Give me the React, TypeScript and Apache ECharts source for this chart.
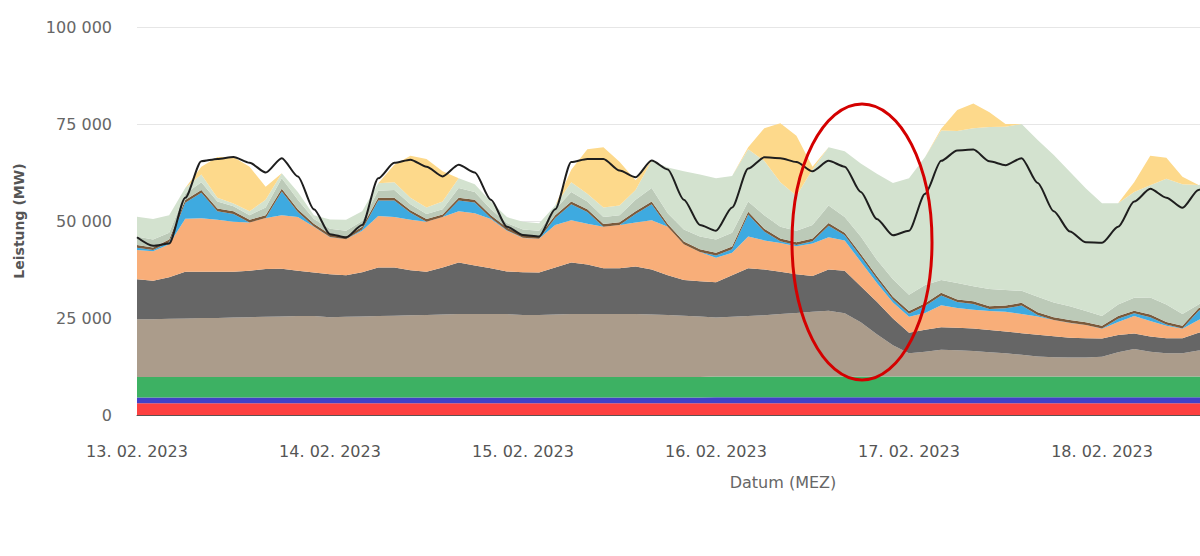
import React, { useEffect, useRef } from "react";
import * as echarts from "echarts";

// 2-hour sampling grid, hours since 13.02.2023 00:00 (MEZ)
const hours: number[] = Array.from({ length: 68 }, (_, i) => i * 2);
const START = new Date(2023, 1, 13, 0, 0, 0).getTime();
const HOUR = 3600 * 1000;
const DAY = 24 * HOUR;
const LAST_LABEL_DAY = 5; // 18. 02. 2023 is the last visible date label

const yTicks = [0, 25000, 50000, 75000, 100000];

// Generation per source in MW (stacked from bottom to top)
const kernenergie = [
  3000, 3000, 3000, 3000, 3000, 3000, 3000, 3000, 3000, 3000, 3000, 3000,
  3000, 3000, 3000, 3000, 3000, 3000, 3000, 3000, 3000, 3000, 3000, 3000,
  3000, 3000, 3000, 3000, 3000, 3000, 3000, 3000, 3000, 3000, 3000, 3000,
  3000, 3000, 3000, 3000, 3000, 3000, 3000, 3000, 3000, 3000, 3000, 3000,
  3000, 3000, 3000, 3000, 3000, 3000, 3000, 3000, 3000, 3000, 3000, 3000,
  3000, 3000, 3000, 3000, 3000, 3000, 3000, 3000,
];
const laufwasser = [
  1500, 1500, 1500, 1500, 1500, 1500, 1500, 1500, 1500, 1500, 1500, 1500,
  1500, 1500, 1500, 1500, 1500, 1500, 1500, 1500, 1500, 1500, 1500, 1500,
  1500, 1500, 1500, 1500, 1500, 1500, 1500, 1500, 1500, 1500, 1500, 1500,
  1600, 1600, 1600, 1600, 1600, 1600, 1600, 1600, 1600, 1600, 1600, 1600,
  1600, 1600, 1600, 1600, 1600, 1600, 1600, 1600, 1600, 1600, 1600, 1600,
  1600, 1600, 1600, 1600, 1600, 1600, 1600, 1600,
];
const biomasse = [
  5300, 5300, 5300, 5300, 5300, 5300, 5300, 5300, 5300, 5300, 5300, 5300,
  5300, 5300, 5300, 5300, 5300, 5300, 5300, 5300, 5300, 5300, 5300, 5300,
  5300, 5300, 5300, 5300, 5300, 5300, 5300, 5300, 5300, 5300, 5300, 5300,
  5300, 5300, 5300, 5300, 5300, 5300, 5300, 5300, 5300, 5300, 5300, 5300,
  5300, 5300, 5300, 5300, 5300, 5300, 5300, 5300, 5300, 5300, 5300, 5300,
  5300, 5300, 5300, 5300, 5300, 5300, 5300, 5300,
];
const braunkohle = [
  14900, 14900, 15000, 15100, 15200, 15200, 15300, 15400, 15500, 15600, 15700, 15700,
  15400, 15500, 15600, 15700, 15800, 15900, 16000, 16100, 16200, 16200, 16200, 16200,
  16000, 16000, 16100, 16200, 16200, 16200, 16200, 16200, 16100, 16000, 15800, 15600,
  15200, 15400, 15600, 15800, 16100, 16400, 16700, 17000, 16300, 14000, 10900, 8100,
  6000, 6400, 6900, 6800, 6600, 6300, 6000, 5600, 5200, 5000, 4900, 4900,
  5100, 6300, 7100, 6400, 6000, 6000, 6700, 7100,
];
const steinkohle = [
  10300, 9900, 10700, 12000, 11900, 11900, 11800, 12000, 12300, 12300, 11700, 11200,
  11100, 10700, 11400, 12500, 12400, 11600, 11100, 12100, 13300, 12500, 11800, 11000,
  11000, 10900, 12100, 13300, 12800, 11800, 11800, 12300, 11600, 10200, 9200, 9100,
  9100, 10700, 12300, 11800, 10900, 10000, 9200, 10600, 11000, 9300, 8400, 6900,
  5300, 5700, 5800, 5800, 5800, 5700, 5600, 5600, 5600, 5400, 5100, 5000,
  4700, 4400, 4000, 3900, 3900, 3900, 4600, 5000,
];
const erdgas = [
  7500, 7600, 8500, 13700, 13800, 13400, 12900, 12400, 13200, 13800, 13800, 11800,
  9500, 9300, 10700, 13300, 13000, 13000, 12900, 13000, 13200, 13500, 12700, 10500,
  8800, 8700, 11000, 10900, 10500, 10700, 11200, 11300, 12700, 12500, 9200, 7500,
  6300, 5800, 8200, 7500, 7400, 7200, 8400, 8300, 7800, 6300, 4800, 4100,
  4100, 4300, 5700, 5100, 4800, 4900, 5100, 4900, 4700, 4200, 3800, 3400,
  2500, 3400, 4500, 4000, 3200, 2400, 3300, 4500,
];
const pumpspeicher = [
  600, 300, 500, 4100, 6600, 2200, 2000, 0, 0, 6100, 1300, 100,
  100, 0, 300, 4000, 4300, 1800, 0, 0, 2800, 2800, 300, 100,
  100, 0, 1800, 4100, 3000, 0, 0, 2200, 4100, 0, 0, 0,
  600, 900, 5700, 2300, 500, 300, 600, 3000, 1300, 1300, 1100, 800,
  800, 1800, 2500, 1500, 1500, 500, 900, 2200, 400, 0, 100, 0,
  100, 800, 700, 1000, 300, 100, 2300, 2800,
];
const oel = [
  700, 700, 700, 700, 700, 700, 700, 700, 700, 700, 700, 700,
  700, 700, 700, 700, 700, 700, 700, 700, 700, 700, 700, 700,
  700, 700, 700, 700, 700, 700, 700, 700, 700, 700, 700, 700,
  700, 700, 700, 700, 700, 700, 700, 700, 700, 700, 700, 700,
  700, 700, 700, 700, 700, 700, 700, 700, 700, 700, 700, 700,
  700, 700, 700, 700, 700, 700, 700, 700,
];
const windOffshore = [
  2200, 2000, 1800, 1600, 2000, 1800, 1300, 1200, 2000, 2700, 2500, 1200,
  1400, 1500, 1500, 1800, 2000, 1500, 1300, 1300, 2500, 2000, 1500, 1200,
  1400, 1400, 1500, 2500, 2000, 1800, 1800, 3000, 3500, 2800, 3100, 3300,
  3400, 3600, 2600, 3500, 3000, 3000, 3500, 4500, 4000, 4500, 4200, 4500,
  4200, 4700, 3300, 4200, 3900, 4500, 4000, 3100, 4000, 3800, 3500, 2900,
  2500, 3000, 3300, 4400, 4500, 3000, 1000, 1000,
];
const windOnshore = [
  5100, 5300, 4500, 1500, 2000, 1000, 700, 1000, 2000, 1300, 2000, 1000,
  2400, 2800, 2500, 1900, 2000, 1700, 1700, 2000, 2500, 2000, 2000, 1500,
  2000, 1900, 1000, 2500, 2000, 2500, 2500, 2500, 7000, 11800, 15000, 16000,
  15800, 14600, 13500, 14000, 11500, 9000, 14300, 15000, 17000, 18800, 22200, 24800,
  30000, 33000, 38500, 39200, 40700, 41700, 42100, 43000, 40400, 38000, 34700, 31600,
  29100, 26100, 27300, 28900, 32400, 33500, 30800, 29000,
];
const solar = [
  0, 0, 0, 0, 2000, 10500, 12000, 11500, 3300, 0, 0, 0,
  0, 0, 0, 0, 4500, 10800, 12500, 7800, 0, 0, 0, 0,
  0, 0, 0, 3200, 11500, 15500, 11300, 2500, 0, 0, 0, 0,
  0, 0, 500, 8400, 15200, 15500, 700, 0, 0, 0, 0, 0,
  0, 0, 500, 5400, 6400, 3800, 700, 0, 0, 0, 0, 0,
  0, 0, 2500, 7600, 5400, 1900, 0, 0,
];
// Load (Last) in MW
const last = [
  45800, 43600, 44200, 56000, 65400, 66000, 66500, 65000, 62500, 66200, 61500, 53000,
  46600, 45800, 49000, 61000, 65000, 65800, 64000, 61500, 64500, 62500, 55500, 48500,
  46400, 46000, 53000, 65200, 66000, 66000, 63000, 61300, 65600, 63300, 55500, 49000,
  47500, 53500, 63500, 66400, 66200, 65200, 62800, 65500, 64000, 57500, 50500, 46300,
  47500, 57000, 65500, 68200, 68400, 65400, 64400, 66200, 59800, 52500, 47300, 44500,
  44400, 48500, 55000, 58300, 56000, 53400, 58000, 62000,
];

const stackSeries = [
  { name: "Kernenergie", data: kernenergie, color: "#fd4040" },
  { name: "Laufwasser", data: laufwasser, color: "#4141c8" },
  { name: "Biomasse", data: biomasse, color: "#3db163" },
  { name: "Braunkohle", data: braunkohle, color: "#ab9c8b" },
  { name: "Steinkohle", data: steinkohle, color: "#666666" },
  { name: "Erdgas", data: erdgas, color: "#f8ae79" },
  { name: "Pumpspeicher", data: pumpspeicher, color: "#3eaae0" },
  { name: "Öl", data: oel, color: "#7a5a3c" },
  { name: "Wind Offshore", data: windOffshore, color: "#bccab8" },
  { name: "Wind Onshore", data: windOnshore, color: "#d3e2cf" },
  { name: "Solar", data: solar, color: "#fdd98b" },
];

const fmtThousands = (v: number) =>
  String(Math.round(v)).replace(/\B(?=(\d{3})+(?!\d))/g, " ");

const pad2 = (n: number) => (n < 10 ? "0" + n : String(n));
const fmtDate = (v: number) => {
  if (v > START + LAST_LABEL_DAY * DAY + HOUR) return "";
  const d = new Date(v);
  return `${pad2(d.getDate())}. ${pad2(d.getMonth() + 1)}. ${d.getFullYear()}`;
};

export default function App() {
  const ref = useRef<HTMLDivElement>(null);

  useEffect(() => {
    if (!ref.current) return;
    const chart = echarts.init(ref.current, undefined, { renderer: "svg" });
    const font = "'DejaVu Sans', 'Open Sans', sans-serif";

    const series: any[] = stackSeries.map((s) => ({
      name: s.name,
      type: "line",
      stack: "erzeugung",
      data: hours.map((h, i) => [START + h * HOUR, s.data[i]]),
      symbol: "none",
      showSymbol: false,
      lineStyle: { width: 0 },
      areaStyle: { color: s.color, opacity: 1 },
      itemStyle: { color: s.color },
      z: 2,
    }));
    series.push({
      name: "Last",
      type: "line",
      data: hours.map((h, i) => [START + h * HOUR, last[i]]),
      symbol: "none",
      showSymbol: false,
      smooth: 0.25,
      smoothMonotone: "x",
      lineStyle: { color: "#1e1e1e", width: 2 },
      z: 5,
    });

    chart.setOption({
      animation: false,
      backgroundColor: "#ffffff",
      grid: { left: 137, right: 0, top: 27, bottom: 141, containLabel: false },
      xAxis: {
        type: "time",
        min: START,
        max: START + 160.66 * HOUR,
        minInterval: DAY,
        maxInterval: DAY,
        name: "Datum (MEZ)",
        nameLocation: "middle",
        nameGap: 59,
        nameTextStyle: { color: "#666", fontSize: 16, fontFamily: font },
        axisLine: { show: true, lineStyle: { color: "#5e5252", width: 1 } },
        axisTick: { show: false },
        splitLine: { show: false },
        axisLabel: {
          color: "#555",
          fontSize: 16,
          fontFamily: font,
          margin: 28,
          showMinLabel: true,
          showMaxLabel: false,
          hideOverlap: false,
          formatter: (v: number) => fmtDate(v),
        },
      },
      yAxis: {
        type: "value",
        min: yTicks[0],
        max: yTicks[yTicks.length - 1],
        interval: yTicks[1] - yTicks[0],
        name: "Leistung (MW)",
        nameLocation: "middle",
        nameGap: 111,
        nameTextStyle: {
          color: "#555",
          fontSize: 14,
          fontWeight: "bold",
          fontFamily: font,
        },
        axisLine: { show: false },
        axisTick: { show: false },
        splitLine: { show: true, lineStyle: { color: "#e6e6e6", width: 1 } },
        axisLabel: {
          color: "#666",
          fontSize: 16,
          fontFamily: font,
          margin: 25,
          formatter: (v: number) => fmtThousands(v),
        },
      },
      series,
      graphic: [
        {
          type: "ellipse",
          shape: { cx: 862, cy: 242, rx: 70, ry: 138 },
          style: { fill: "none", stroke: "#d40000", lineWidth: 3 },
          z: 100,
        },
      ],
    });

    return () => chart.dispose();
  }, []);

  return (
    <div
      style={{
        position: "fixed",
        left: 0,
        top: 0,
        width: 1200,
        height: 556,
        overflow: "hidden",
        background: "#fff",
      }}
    >
      <div ref={ref} style={{ width: 1429, height: 556 }} />
    </div>
  );
}
